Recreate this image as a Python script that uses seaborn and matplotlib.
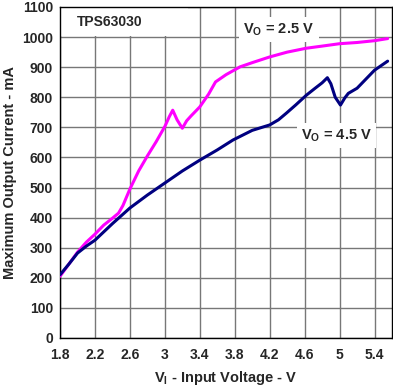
import matplotlib
matplotlib.use('Agg')
import matplotlib.pyplot as plt
import matplotlib.patches as mpatches
import seaborn as sns
import pandas as pd

# Data
###############################################################################

vin_25 = [1.8, 1.9, 2.0, 2.1, 2.2, 2.3, 2.4, 2.47, 2.52, 2.6, 2.7, 2.8, 2.9,
          3.0, 3.05, 3.09, 3.14, 3.2, 3.25, 3.3, 3.4, 3.5, 3.58, 3.7, 3.86,
          4.0, 4.2, 4.4, 4.62, 4.8, 5.0, 5.2, 5.4, 5.55]
iout_25 = [205, 245, 285, 318, 345, 375, 398, 415, 440, 495, 555, 605, 652,
           703, 735, 757, 725, 697, 722, 738, 768, 810, 851, 875, 901,
           915, 934, 950, 963, 970, 978, 982, 988, 995]

vin_45 = [1.8, 1.9, 2.0, 2.1, 2.2, 2.4, 2.6, 2.8, 3.0, 3.2, 3.4, 3.6, 3.78,
          4.0, 4.2, 4.3, 4.39, 4.5, 4.62, 4.72, 4.8, 4.86, 4.9, 4.95, 5.01,
          5.06, 5.1, 5.2, 5.3, 5.4, 5.55]
iout_45 = [210, 245, 282, 305, 325, 380, 432, 475, 515, 555, 591, 625, 658,
           690, 708, 725, 747, 775, 807, 830, 848, 865, 845, 800, 774,
           798, 813, 830, 860, 890, 920]

xticks = [1.8, 2.2, 2.6, 3.0, 3.4, 3.8, 4.2, 4.6, 5.0, 5.4]
xticklabels = ['1.8', '2.2', '2.6', '3', '3.4', '3.8', '4.2', '4.6', '5', '5.4']
yticks = list(range(0, 1101, 100))

df_25 = pd.DataFrame({'vin': vin_25, 'iout': iout_25})
df_45 = pd.DataFrame({'vin': vin_45, 'iout': iout_45})

# Style
###############################################################################

sns.set_style('white')
plt.rcParams['font.family'] = ['Liberation Sans', 'DejaVu Sans']
plt.rcParams['font.weight'] = 'bold'
plt.rcParams['mathtext.fontset'] = 'custom'
plt.rcParams['mathtext.rm'] = 'Liberation Sans:bold'
plt.rcParams['mathtext.it'] = 'Liberation Sans:bold'

fig = plt.figure(figsize=(3.93, 3.88), dpi=100)
ax = fig.add_axes([0.1527, 0.1289, 0.8448, 0.8531])

sns.lineplot(data=df_25, x='vin', y='iout', sort=False, estimator=None,
             color='#ff00ff', linewidth=2.2, ax=ax, zorder=3)
sns.lineplot(data=df_45, x='vin', y='iout', sort=False, estimator=None,
             color='#000080', linewidth=2.2, ax=ax, zorder=3)

ax.set_xlim(1.8, 5.6)
ax.set_ylim(0, 1100)
ax.set_xticks(xticks)
ax.set_xticklabels(xticklabels)
ax.set_yticks(yticks)
ax.tick_params(length=0, labelsize=10)
ax.tick_params(axis='x', pad=7)
ax.tick_params(axis='y', pad=5)
for lab in ax.get_xticklabels() + ax.get_yticklabels():
    lab.set_fontweight('bold')

ax.set_axisbelow(True)
ax.grid(True, color='#777777', linewidth=1.0)
for s in ax.spines.values():
    s.set_color('black')
    s.set_linewidth(1.0)

ax.set_xlabel(r'V$_\mathrm{I}$ - Input Voltage - V', fontsize=10.5,
              fontweight='bold', labelpad=5)
ax.set_ylabel('Maximum Output Current - mA', fontsize=10.5,
              fontweight='bold', labelpad=4)

# white box behind the device name
ax.add_patch(mpatches.Rectangle((1.81, 1004), 1.45, 92, facecolor='white',
                                edgecolor='none', zorder=1.5))
ax.text(1.99, 1050, 'TPS63030', fontsize=10, fontweight='bold',
        va='center', ha='left', zorder=4)

ax.text(3.9, 1025, r'V$_\mathrm{O}$ = 2.5 V', fontsize=10.5,
        fontweight='bold', va='center', ha='left', zorder=4,
        bbox=dict(facecolor='white', edgecolor='none', pad=3))
ax.text(4.56, 672, r'V$_\mathrm{O}$ = 4.5 V', fontsize=10.5,
        fontweight='bold', va='center', ha='left', zorder=4,
        bbox=dict(facecolor='white', edgecolor='none', pad=3))

plt.savefig('out.png', dpi=100)
